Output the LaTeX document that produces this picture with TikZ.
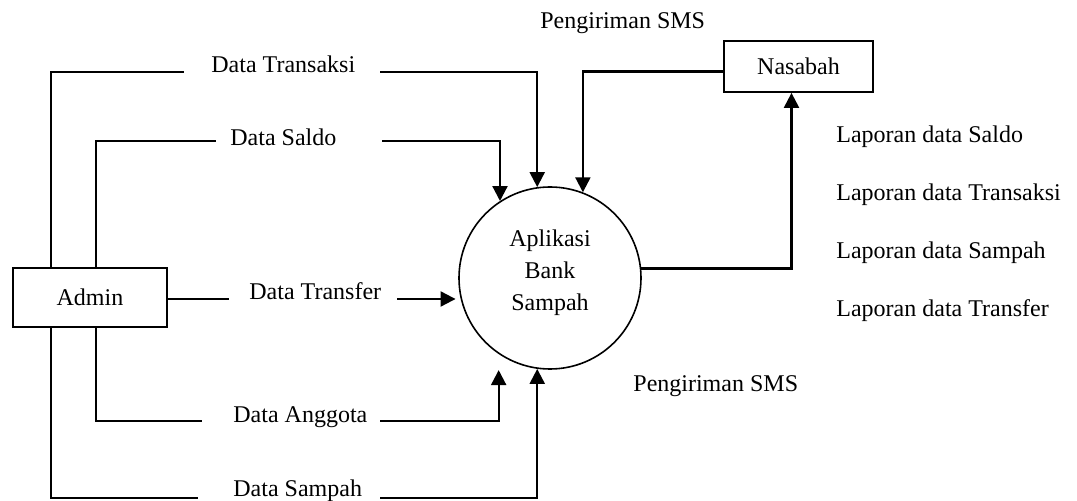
\documentclass[tikz,border=0pt]{standalone}
\usepackage{fontspec}
\setmainfont{Liberation Serif}
\usetikzlibrary{arrows.meta}

\begin{document}
\begin{tikzpicture}
  [x=0.5pt,y=-0.5pt,
   every node/.style={font=\fontsize{12}{16}\selectfont},
   box/.style={rectangle,draw=black,line width=0.9pt},
   proc/.style={circle,draw=black,line width=0.8pt,inner sep=0pt,minimum size=91pt,align=center,text depth=8.2pt},
   lbl/.style={inner sep=0pt,anchor=base west},
   link/.style={line width=0.8pt},
   flow/.style={line width=1.1pt,-{Triangle[length=7.5pt,width=7.5pt]}}]
  \useasboundingbox (0,0) rectangle (1077,501);

  \node[box,minimum width=77pt,minimum height=29.5pt] (admin) at (90,297.5) {Admin};
  \node[box,minimum width=74.5pt,minimum height=25.5pt] (nasabah) at (798.5,66.5) {Nasabah};
  \node[proc] (app) at (550,278) {Aplikasi\\Bank\\Sampah};

  \node[lbl] (lTransaksi) at (211,73) {Data Transaksi};
  \node[lbl] (lSaldo) at (230,146) {Data Saldo};
  \node[lbl] (lTransfer) at (249,300) {Data Transfer};
  \node[lbl] (lAnggota) at (233,423) {Data Anggota};
  \node[lbl] (lSampah) at (233,497) {Data Sampah};
  \node[lbl] (smsTop) at (540,29) {Pengiriman SMS};
  \node[lbl] (smsBot) at (633,392) {Pengiriman SMS};
  \foreach \y/\txt in {143/Saldo, 201/Transaksi, 259/Sampah, 317/Transfer}
    \node[lbl] (lap\txt) at (836,\y) {Laporan data \txt};

  \coordinate (trL) at (184,72);
  \coordinate (trR) at (380,72);
  \coordinate (sdL) at (216,141);
  \coordinate (sdR) at (382,141);
  \coordinate (tfL) at (229,299);
  \coordinate (tfR) at (397,299);
  \coordinate (agL) at (202,421);
  \coordinate (agR) at (380,421);
  \coordinate (spL) at (198,498);
  \coordinate (spR) at (380,498);

  \draw[link] ([xshift=19.5pt]admin.north west) |- (trL);
  \draw[flow] (trR) -| (app.98);
  \draw[link] ([xshift=42pt]admin.north west) |- (sdL);
  \draw[flow] (sdR) -| (app.123);
  \draw[link] (admin.east |- tfL) -- (tfL);
  \draw[flow,shorten >=2.5pt] (tfR) -- (tfR -| app.193);
  \draw[link] ([xshift=42pt]admin.south west) |- (agL);
  \draw[flow,shorten >=8pt] (agR) -| (app.-124);
  \draw[link] ([xshift=19.5pt]admin.south west) |- (spL);
  \draw[flow] (spR) -| (app.-98);

  \draw[flow] (app.6) -| ([xshift=-3.5pt]nasabah.south);
  \draw[flow] ([yshift=-2.5pt]nasabah.west) -| (app.69);
\end{tikzpicture}
\end{document}
